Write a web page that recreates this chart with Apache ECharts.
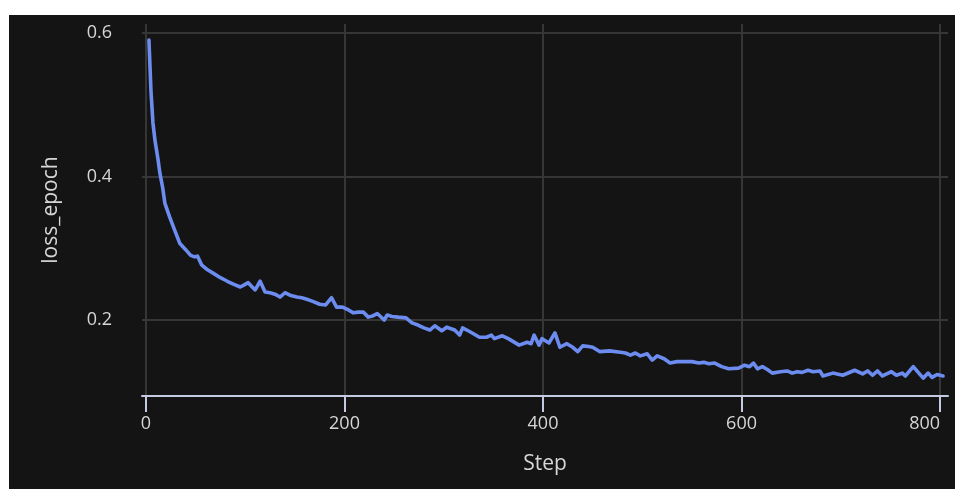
<!DOCTYPE html>
<html>
<head>
<meta charset="utf-8">
<title>loss_epoch</title>
<script src="https://cdn.jsdelivr.net/npm/echarts@6/dist/echarts.min.js"></script>
<style>
  html, body { margin: 0; padding: 0; background: #ffffff; }
  #chart { position: absolute; left: 9px; top: 15px; width: 946px; height: 474px; background: #141414; }
</style>
</head>
<body>
<div id="chart"></div>
<script>
// Training steps and the epoch loss recorded at each one
const steps = [3, 5, 7, 9, 12, 14, 17, 19, 24, 29, 34, 40, 45, 49, 52, 56, 62, 68, 75, 82, 88, 95, 99, 103, 107, 110, 115, 120, 125, 130, 135, 140, 146, 152, 157, 162, 168, 175, 181, 187, 192, 198, 204, 209, 214, 219, 224, 229, 233, 240, 243, 248, 254, 262, 268, 274, 280, 286, 291, 298, 303, 311, 316, 319, 326, 336, 343, 348, 351, 359, 365, 376, 384, 388, 391, 396, 399, 406, 412, 417, 424, 430, 435, 440, 446, 450, 457, 467, 478, 483, 488, 493, 498, 505, 510, 515, 522, 528, 535, 537, 550, 557, 562, 567, 573, 580, 587, 597, 603, 608, 612, 616, 621, 626, 631, 639, 646, 651, 656, 661, 667, 672, 679, 682, 692, 702, 714, 722, 727, 732, 737, 742, 751, 756, 762, 765, 773, 783, 788, 792, 797, 800, 803];
const lossEpoch = [0.590, 0.520, 0.475, 0.451, 0.425, 0.405, 0.383, 0.363, 0.343, 0.325, 0.307, 0.298, 0.290, 0.288, 0.289, 0.277, 0.270, 0.265, 0.259, 0.254, 0.250, 0.246, 0.249, 0.252, 0.246, 0.242, 0.254, 0.239, 0.238, 0.236, 0.232, 0.238, 0.234, 0.232, 0.231, 0.229, 0.226, 0.222, 0.221, 0.231, 0.218, 0.218, 0.214, 0.210, 0.211, 0.211, 0.204, 0.206, 0.209, 0.200, 0.207, 0.205, 0.204, 0.203, 0.196, 0.193, 0.189, 0.186, 0.192, 0.185, 0.190, 0.186, 0.179, 0.189, 0.184, 0.176, 0.176, 0.179, 0.174, 0.178, 0.174, 0.165, 0.169, 0.167, 0.179, 0.165, 0.174, 0.168, 0.182, 0.162, 0.167, 0.162, 0.156, 0.164, 0.163, 0.162, 0.156, 0.157, 0.155, 0.154, 0.151, 0.154, 0.150, 0.153, 0.144, 0.150, 0.146, 0.140, 0.142, 0.144, 0.142, 0.140, 0.141, 0.139, 0.140, 0.135, 0.132, 0.133, 0.137, 0.135, 0.140, 0.132, 0.135, 0.131, 0.126, 0.128, 0.129, 0.126, 0.128, 0.127, 0.130, 0.128, 0.129, 0.122, 0.126, 0.123, 0.130, 0.125, 0.129, 0.123, 0.129, 0.122, 0.128, 0.123, 0.126, 0.122, 0.135, 0.119, 0.126, 0.120, 0.124, 0.123, 0.122];

// Tick positions shown on each axis
const stepTicks = [0, 200, 400, 600, 800];
const lossTicks = [0.2, 0.4, 0.6];

const fontFamily = '"Open Sans", "Noto Sans", sans-serif';
const textColor = '#d6d6d6';
const gridColor = '#363636';
const axisColor = '#c3cbe2';

const chart = echarts.init(document.getElementById('chart'), null, { renderer: 'canvas' });

chart.setOption({
  backgroundColor: '#141414',
  animation: false,
  grid: { left: 133, right: 7, top: 9, bottom: 93, containLabel: false },
  xAxis: {
    type: 'value',
    min: -4,
    max: 808,
    name: 'Step',
    nameLocation: 'middle',
    nameGap: 58,
    nameTextStyle: { color: textColor, fontSize: 21, fontFamily: fontFamily },
    axisLine: { show: true, onZero: false, lineStyle: { color: axisColor, width: 2 } },
    axisTick: { show: true, customValues: stepTicks, length: 16, lineStyle: { color: axisColor, width: 2 } },
    axisLabel: { customValues: stepTicks, color: textColor, fontSize: 18, fontFamily: fontFamily, margin: 19, alignMaxLabel: 'right' },
    splitLine: { show: true, lineStyle: { color: gridColor, width: 2 } }
  },
  yAxis: {
    type: 'value',
    min: 0.0941,
    max: 0.6125,
    name: 'loss_epoch',
    nameLocation: 'middle',
    nameGap: 80,
    nameTextStyle: { color: textColor, fontSize: 21, fontFamily: fontFamily },
    axisLine: { show: false },
    axisTick: { show: false, customValues: lossTicks },
    axisLabel: { customValues: lossTicks, color: textColor, fontSize: 18, fontFamily: fontFamily, margin: 30, formatter: v => v.toFixed(1) },
    splitLine: { show: true, lineStyle: { color: gridColor, width: 2 } }
  },
  series: [{
    type: 'line',
    data: steps.map((s, i) => [s, lossEpoch[i]]),
    showSymbol: false,
    smooth: false,
    lineStyle: { color: '#6c8cf0', width: 3.6, join: 'round', cap: 'round' },
    clip: false
  }]
});
</script>
</body>
</html>
